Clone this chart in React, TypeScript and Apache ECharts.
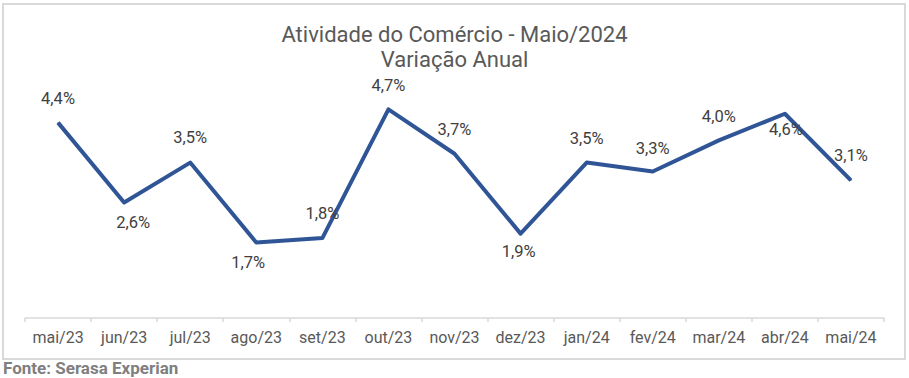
import React, { useEffect, useRef } from "react";
import * as echarts from "echarts";

const categories = ["mai/23", "jun/23", "jul/23", "ago/23", "set/23", "out/23", "nov/23", "dez/23", "jan/24", "fev/24", "mar/24", "abr/24", "mai/24"];
const values = [4.4, 2.6, 3.5, 1.7, 1.8, 4.7, 3.7, 1.9, 3.5, 3.3, 4.0, 4.6, 3.1];
const titleLines = ["Atividade do Comércio - Maio/2024", "Variação Anual"];
const sourceText = "Fonte: Serasa Experian";

// label offsets (style only)
const labelOffsets: [number, number][] = [
  [0, -24], [9, 20], [0, -25], [-8, 20], [0, -25], [0, -24], [0, -24],
  [-2, 18], [0, -24], [0, -23], [0, -24], [1, 16], [0, -25],
];

export default function App() {
  const ref = useRef<HTMLDivElement>(null);
  useEffect(() => {
    document.body.style.margin = "0";
    const chart = echarts.init(ref.current!, undefined, { renderer: "svg" });
    const font = "Roboto, 'Noto Sans', sans-serif";
    chart.setOption({
      animation: false,
      backgroundColor: "#ffffff",
      textStyle: { fontFamily: font },
      title: {
        text: titleLines.join("\n"),
        left: "center",
        top: 17,
        textStyle: { fontSize: 22, fontWeight: "normal", color: "#595959", lineHeight: 25, fontFamily: font },
      },
      grid: { left: 25, right: 25, top: 96, bottom: 60 },
      xAxis: {
        type: "category",
        data: categories,
        boundaryGap: true,
        axisLine: { lineStyle: { color: "#d9d9d9", width: 1.5 } },
        axisTick: { show: true, interval: 0, length: 4, lineStyle: { color: "#d9d9d9", width: 1.5 } },
        axisLabel: { interval: 0, color: "#595959", fontSize: 16, margin: 11, fontFamily: font },
      },
      yAxis: {
        type: "value",
        min: 0,
        max: 5,
        show: false,
        splitLine: { show: false },
      },
      graphic: [
        {
          type: "rect",
          shape: { x: 3, y: 4, width: 902, height: 355 },
          style: { fill: "none", stroke: "#d9d9d9", lineWidth: 2 },
          silent: true,
        },
        {
          type: "text",
          left: 3,
          top: 359,
          style: { text: sourceText, fill: "#7f7f7f", fontSize: 17, fontWeight: "bold", fontFamily: font },
        },
      ],
      series: [
        {
          type: "line",
          data: values.map((v, i) => ({
            value: v,
            label: { offset: labelOffsets[i] },
          })),
          symbol: "circle",
          symbolSize: 1,
          showSymbol: true,
          itemStyle: { color: "#2F5597" },
          lineStyle: { color: "#2F5597", width: 4, join: "round" },
          label: {
            show: true,
            position: "inside",
            color: "#404040",
            fontSize: 16.5,
            fontFamily: font,
            formatter: (p: any) => p.value.toFixed(1).replace(".", ",") + "%",
          },
        },
      ],
    });
    return () => chart.dispose();
  }, []);
  return <div ref={ref} style={{ width: 909, height: 378 }} />;
}
